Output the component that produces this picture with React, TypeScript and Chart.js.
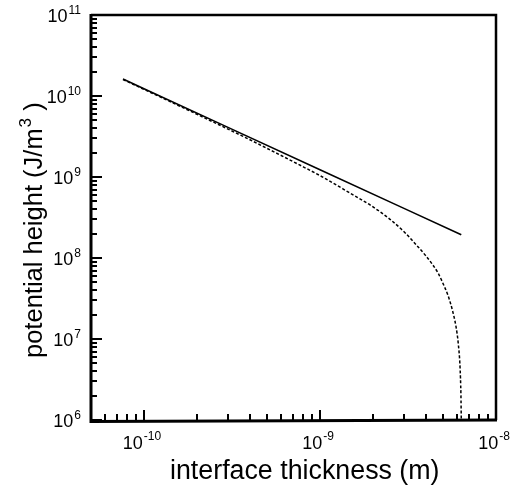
import React, { useEffect, useRef } from "react";
import { Chart, registerables } from "chart.js";

Chart.register(...registerables);

// Interface thickness (m)
const solidX = [7.6e-11, 1e-10, 3e-10, 1e-9, 3e-9, 6.35e-9];
// Potential height (J/m^3), solid curve
const solidY = [1.62e10, 1.23e10, 4.1e9, 1.23e9, 4.1e8, 1.94e8];

const dashedX = [
  7.6e-11, 1e-10, 2e-10, 4e-10, 7.6e-10, 1e-9, 1.46e-9, 1.96e-9, 2.5e-9,
  3.05e-9, 3.4e-9, 4.0e-9, 4.4e-9, 4.7e-9, 5.0e-9, 5.35e-9, 5.65e-9, 5.93e-9,
  6.1e-9, 6.25e-9, 6.32e-9, 6.35e-9,
];
// Potential height (J/m^3), dashed curve
const dashedY = [
  1.6e10, 1.21e10, 5.95e9, 2.88e9, 1.42e9, 1.04e9, 6.45e8, 4.4e8, 3.0e8,
  2.04e8, 1.58e8, 1.06e8, 8.07e7, 6.44e7, 4.85e7, 3.4e7, 2.28e7, 1.41e7,
  8.9e6, 4.4e6, 2.04e6, 1.0e6,
];

const xTickExponents = [-10, -9, -8];
const yTickExponents = [6, 7, 8, 9, 10, 11];
const xMin = 5e-11;
const xMax = 1e-8;
const yMin = 1e6;
const yMax = 1e11;

const xTitle = "interface thickness (m)";
const yTitleMain = "potential height (J/m";
const yTitleSup = "3";
const yTitleEnd = " )";

const FONT = "'Liberation Sans', Arial, Helvetica, sans-serif";

const framePlugin = {
  id: "framePlugin",
  afterDraw(chart: any) {
    const ctx = chart.ctx as CanvasRenderingContext2D;
    const { left, right, top, bottom } = chart.chartArea;
    const xs = chart.scales.x;
    const ys = chart.scales.y;
    ctx.save();
    ctx.strokeStyle = "#000";
    ctx.fillStyle = "#000";
    ctx.lineCap = "butt";

    // ticks (inward)
    ctx.lineWidth = 2;
    for (let d = -11; d <= -8; d++) {
      for (let m = 1; m <= 9; m++) {
        const v = m * Math.pow(10, d);
        if (v < xMin * 0.999 || v > xMax * 1.001) continue;
        const px = Math.round(xs.getPixelForValue(v));
        const len = m === 1 ? 10 : 6;
        ctx.beginPath();
        ctx.moveTo(px, bottom);
        ctx.lineTo(px, bottom - len);
        ctx.stroke();
      }
    }
    for (let d = 6; d <= 11; d++) {
      for (let m = 1; m <= 9; m++) {
        const v = m * Math.pow(10, d);
        if (v < yMin * 0.999 || v > yMax * 1.001) continue;
        const py = Math.round(ys.getPixelForValue(v));
        const len = m === 1 ? 11 : 6;
        ctx.beginPath();
        ctx.moveTo(left, py);
        ctx.lineTo(left + len, py);
        ctx.stroke();
      }
    }

    // frame
    ctx.lineWidth = 3;
    ctx.beginPath();
    ctx.moveTo(left, top - 1);
    ctx.lineTo(left, bottom + 1.5);
    ctx.lineTo(right + 1, bottom);
    ctx.stroke();
    ctx.lineWidth = 2.5;
    ctx.beginPath();
    ctx.moveTo(left, top);
    ctx.lineTo(right, top);
    ctx.lineTo(right, bottom);
    ctx.stroke();

    // y tick labels
    const baseFont = `18px ${FONT}`;
    const supFont = `12px ${FONT}`;
    for (const e of yTickExponents) {
      const py = ys.getPixelForValue(Math.pow(10, e));
      const expStr = String(e);
      ctx.font = supFont;
      const we = ctx.measureText(expStr).width;
      ctx.font = baseFont;
      const wb = ctx.measureText("10").width;
      const rightEdge = 81;
      ctx.textAlign = "left";
      ctx.textBaseline = "alphabetic";
      ctx.fillText("10", rightEdge - we - 1 - wb, py + 7);
      ctx.font = supFont;
      ctx.fillText(expStr, rightEdge - we, py - 1);
    }
    // x tick labels
    for (const e of xTickExponents) {
      const px = xs.getPixelForValue(Math.pow(10, e));
      const expStr = String(e);
      ctx.font = supFont;
      const we = ctx.measureText(expStr).width;
      ctx.font = baseFont;
      const wb = ctx.measureText("10").width;
      const total = wb + 1 + we;
      const x0 = px - 2 - total / 2;
      ctx.textAlign = "left";
      ctx.fillText("10", x0, 449);
      ctx.font = supFont;
      ctx.fillText(expStr, x0 + wb + 1, 440);
    }

    // x title
    ctx.font = `26.8px ${FONT}`;
    ctx.textAlign = "left";
    ctx.fillText(xTitle, 170, 479);

    // y title (rotated)
    ctx.save();
    ctx.translate(42, 358);
    ctx.rotate(-Math.PI / 2);
    ctx.font = `25.5px ${FONT}`;
    ctx.fillText(yTitleMain, 0, 0);
    const w1 = ctx.measureText(yTitleMain).width;
    ctx.font = `17px ${FONT}`;
    ctx.fillText(yTitleSup, w1 + 1, -11);
    const w2 = ctx.measureText(yTitleSup).width;
    ctx.font = `25.5px ${FONT}`;
    ctx.fillText(yTitleEnd, w1 + 1 + w2, 0);
    ctx.restore();

    ctx.restore();
  },
};

export default function App() {
  const canvasRef = useRef<HTMLCanvasElement | null>(null);

  useEffect(() => {
    if (!canvasRef.current) return;
    const chart = new Chart(canvasRef.current, {
      type: "line",
      data: {
        datasets: [
          {
            label: "solid",
            data: solidX.map((x, i) => ({ x, y: solidY[i] })),
            borderColor: "#000",
            borderWidth: 1.6,
            pointRadius: 0,
            tension: 0,
            fill: false,
          },
          {
            label: "dashed",
            data: dashedX.map((x, i) => ({ x, y: dashedY[i] })),
            borderColor: "#000",
            borderWidth: 1.5,
            borderDash: [3, 2],
            pointRadius: 0,
            cubicInterpolationMode: "monotone",
            fill: false,
          },
        ],
      },
      options: {
        responsive: false,
        animation: false,
        layout: { padding: { left: 0, right: 30, top: 15, bottom: 0 } },
        plugins: {
          legend: { display: false },
          tooltip: { enabled: false },
          title: { display: false },
        },
        scales: {
          x: {
            type: "logarithmic",
            min: xMin,
            max: xMax,
            grid: { display: false },
            border: { display: false },
            ticks: { display: false },
            afterFit: (s: any) => {
              s.height = 69;
            },
          },
          y: {
            type: "logarithmic",
            min: yMin,
            max: yMax,
            grid: { display: false },
            border: { display: false },
            ticks: { display: false },
            afterFit: (s: any) => {
              s.width = 91;
            },
          },
        },
      },
      plugins: [framePlugin],
    });
    return () => chart.destroy();
  }, []);

  return (
    <div style={{ position: "fixed", left: 0, top: 0, width: 526, height: 489, background: "#fff" }}>
      <canvas ref={canvasRef} width={526} height={489} style={{ display: "block" }} />
    </div>
  );
}
